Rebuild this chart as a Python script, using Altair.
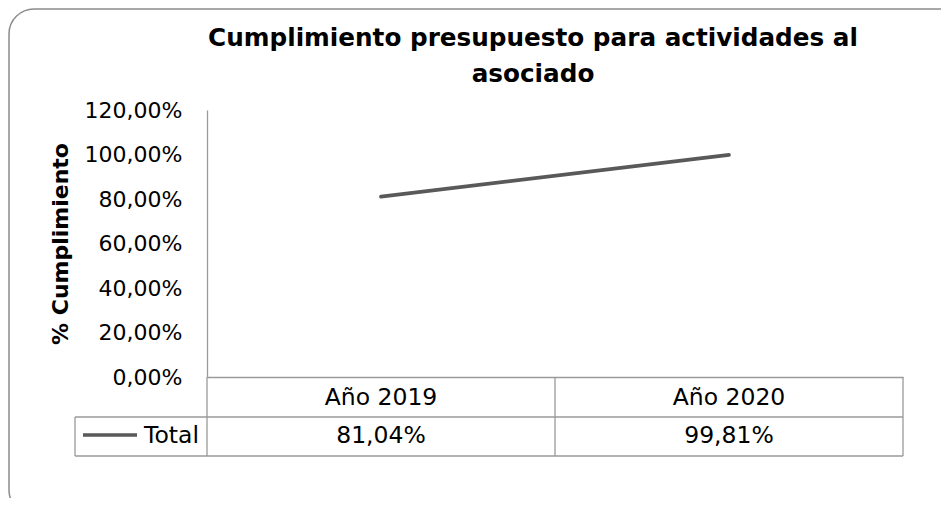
import altair as alt
import pandas as pd

categories = ["Año 2019", "Año 2020"]
values = [0.8104, 0.9981]
series_name = "Total"
y_ticks = [0.0, 0.2, 0.4, 0.6, 0.8, 1.0, 1.2]
title_lines = ["Cumplimiento presupuesto para actividades al", "asociado"]
y_title = "% Cumplimiento"

df = pd.DataFrame({"cat": categories, "value": values})
one = pd.DataFrame({"name": [series_name]})
title_df = pd.DataFrame({"line": title_lines, "row": [0, 1]})

W, H = 696, 267
FONT = "DejaVu Sans"
GRID = "#9a9a9a"
LINE = "#595959"
FMT = "replace(format(datum.value, '.2%'), '.', ',')"

xscale = alt.Scale(domain=categories, paddingInner=0, paddingOuter=0)
xenc = alt.X("cat:N", sort=categories, scale=xscale,
             axis=alt.Axis(labels=False, ticks=False, title=None, grid=False,
                           domainColor=GRID, domainWidth=1.3))

line = alt.Chart(df).mark_line(color=LINE, strokeWidth=3.7, strokeCap="round").encode(
    x=xenc,
    y=alt.Y("value:Q", scale=alt.Scale(domain=[0, 1.2], nice=False),
            axis=alt.Axis(values=y_ticks, labelExpr=FMT, grid=False, ticks=False,
                          domainColor=GRID, domainWidth=1.3, labelFont=FONT,
                          labelFontSize=22, labelColor="black", labelPadding=25,
                          title=y_title, titleFont=FONT, titleFontSize=22,
                          titleFontWeight="bold", titleColor="black", titlePadding=12)),
)

cat_text = alt.Chart(df).mark_text(font=FONT, fontSize=23.5, baseline="middle", color="black").encode(
    x=alt.X("cat:N", sort=categories, scale=xscale), y=alt.value(288), text="cat:N")

val_text = alt.Chart(df).transform_calculate(label=FMT).mark_text(
    font=FONT, fontSize=23.5, baseline="middle", color="black").encode(
    x=alt.X("cat:N", sort=categories, scale=xscale), y=alt.value(326), text="label:N")

vrules = alt.Chart(df).mark_rule(color=GRID, strokeWidth=1.3).encode(
    x=alt.X("cat:N", sort=categories, scale=xscale, bandPosition=1),
    y=alt.value(267), y2=alt.value(346))

base1 = alt.Chart(one)
h1 = base1.mark_rule(color=GRID, strokeWidth=1.3).encode(x=alt.value(-132), x2=alt.value("width"), y=alt.value(307))
h2 = base1.mark_rule(color=GRID, strokeWidth=1.3).encode(x=alt.value(-132), x2=alt.value("width"), y=alt.value(346))
v0 = base1.mark_rule(color=GRID, strokeWidth=1.3).encode(x=alt.value(0), y=alt.value(267), y2=alt.value(346))
vl = base1.mark_rule(color=GRID, strokeWidth=1.3).encode(x=alt.value(-132), y=alt.value(307), y2=alt.value(346))
sym = base1.mark_rule(color=LINE, strokeWidth=3.7).encode(x=alt.value(-124), x2=alt.value(-70), y=alt.value(325))
name = base1.mark_text(font=FONT, fontSize=23.5, align="right", baseline="middle", color="black").encode(
    x=alt.value(-8), y=alt.value(326), text="name:N")
border = base1.mark_rect(fillOpacity=0, stroke="#8c8c8c", strokeWidth=1.5, cornerRadius=25).encode(
    x=alt.value(-198), x2=alt.value(760), y=alt.value(-101), y2=alt.value(405))

t1 = alt.Chart(title_df).transform_filter("datum.row == 0").mark_text(
    font=FONT, fontSize=24.7, fontWeight="bold", color="black", baseline="alphabetic").encode(
    x=alt.value(326), y=alt.value(-64), text="line:N")
t2 = alt.Chart(title_df).transform_filter("datum.row == 1").mark_text(
    font=FONT, fontSize=24.7, fontWeight="bold", color="black", baseline="alphabetic").encode(
    x=alt.value(326), y=alt.value(-28), text="line:N")

chart = alt.layer(border, line, vrules, h1, h2, v0, vl, sym, name, cat_text, val_text, t1, t2).properties(
    width=W, height=H,
    autosize=alt.AutoSizeParams(type="none"),
    padding={"left": 199, "top": 102, "right": 38, "bottom": 121},
).configure_view(stroke=None)

chart.save("out.html", embed_options={"renderer": "svg", "actions": False})
